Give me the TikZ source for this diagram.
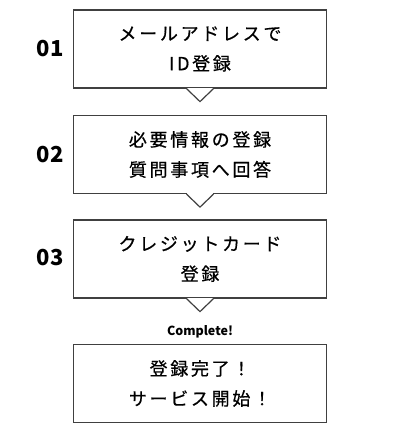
\documentclass[tikz,border=0pt]{standalone}
\usepackage{fontspec}
\setmainfont{Noto Sans CJK JP}
\newfontfamily\jptext[LetterSpace=15,FakeBold=0.6]{Noto Sans CJK JP}
\usetikzlibrary{calc}

\begin{document}
\begin{tikzpicture}[x=1pt,y=-1pt,
  every node/.style={text=black},
  stepbox/.style={draw=black!75,line width=1.2pt,minimum width=252.5pt,minimum height=78pt,
    inner sep=0pt,align=center,font=\jptext\fontsize{18}{30}\selectfont},
  stepno/.style={font=\bfseries\fontsize{22}{22}\selectfont}]
  \useasboundingbox (0,0) rectangle (400,432);
  \path (200,49) node[stepbox] (s1) {メールアドレスで\\ID登録}
  (200,154.5) node[stepbox] (s2) {必要情報の登録\\質問事項へ回答}
  (200,259) node[stepbox] (s3) {クレジットカード\\登録}
  (200,383.5) node[stepbox] (s4) {登録完了！\\サービス開始！};
  \path (50,49) node[stepno] (n1) {01} (50,155) node[stepno] (n2) {02}
  (50,258) node[stepno] (n3) {03};
  \node[font=\bfseries\fontsize{12.5}{12.5}\selectfont] (done) at (200,332) {Complete!};
  % pointers under the boxes
  \foreach \s in {s1,s2,s3} {
    \draw[white,line width=2pt] ($(\s.south)+(-12.6,0)$) -- ($(\s.south)+(12.6,0)$);
    \draw[black!75,line width=1.2pt] ($(\s.south)+(-13.5,0)$) -- ($(\s.south)+(0,13)$)
      -- ($(\s.south)+(13.5,0)$);
  }
\end{tikzpicture}
\end{document}
